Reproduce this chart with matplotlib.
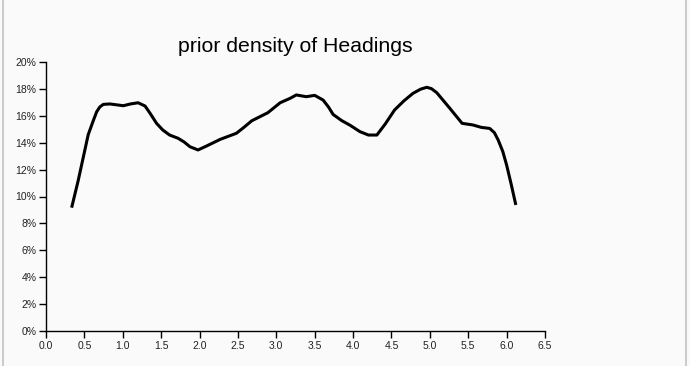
import matplotlib
matplotlib.use("Agg")
import matplotlib.pyplot as plt
from matplotlib.lines import Line2D
from matplotlib.ticker import FuncFormatter, MultipleLocator

heading = [0.334, 0.42, 0.55, 0.62, 0.66, 0.70, 0.746, 0.833, 1.007, 1.10, 1.20, 1.29, 1.36,
           1.44, 1.52, 1.61, 1.72, 1.80, 1.875, 1.98, 2.09, 2.27, 2.48, 2.58, 2.68, 2.89, 3.05,
           3.18, 3.26, 3.39, 3.50, 3.61, 3.68, 3.74, 3.85, 3.96, 4.09, 4.20, 4.31, 4.42, 4.54,
           4.66, 4.78, 4.88, 4.96, 5.02, 5.09, 5.26, 5.42, 5.56, 5.67, 5.78, 5.84, 5.89, 5.95,
           6.0, 6.06, 6.12]
density = [9.17, 11.2, 14.6, 15.7, 16.3, 16.65, 16.85, 16.88, 16.75, 16.88, 16.97, 16.73, 16.15,
           15.44, 14.95, 14.57, 14.33, 14.05, 13.7, 13.46, 13.75, 14.25, 14.7, 15.15, 15.63, 16.23, 16.97,
           17.3, 17.55, 17.42, 17.52, 17.17, 16.65, 16.1, 15.65, 15.3, 14.82, 14.57, 14.57, 15.4, 16.43,
           17.1, 17.67, 17.98, 18.12, 18.02, 17.72, 16.56, 15.44, 15.32, 15.14, 15.06, 14.75, 14.2, 13.35,
           12.34, 10.9, 9.37]

plt.rcParams['font.family'] = ['Liberation Sans', 'DejaVu Sans']
fig = plt.figure(figsize=(6.9, 3.66), dpi=100, facecolor='#fafafa')
ax = fig.add_axes([46/690, 35/366, (545-46)/690, (331-62)/366])
ax.set_facecolor('#fafafa')
ax.plot(heading, density, color='black', lw=2.2, solid_joinstyle='round', solid_capstyle='butt')
ax.set_xlim(0, 6.5)
ax.set_ylim(0, 20)
ax.xaxis.set_major_locator(MultipleLocator(0.5))
ax.yaxis.set_major_locator(MultipleLocator(2))
ax.xaxis.set_major_formatter(FuncFormatter(lambda v, p: f"{v:.1f}"))
ax.yaxis.set_major_formatter(FuncFormatter(lambda v, p: f"{v:.0f}%"))
for s in ['top', 'right']:
    ax.spines[s].set_visible(False)
for s in ['left', 'bottom']:
    ax.spines[s].set_color('black')
    ax.spines[s].set_linewidth(1)
ax.tick_params(labelsize=7.5, length=5, width=1, colors='black', labelcolor='#222222', pad=2)
fig.text((46+545)/2/690, 1-46/366, 'prior density of Headings', ha='center', va='center', fontsize=15.3)
fig.add_artist(Line2D([3.5/690, 3.5/690], [0, 1], color='#cccccc', lw=1.5, transform=fig.transFigure))
fig.add_artist(Line2D([686/690, 686/690], [0, 1], color='#cccccc', lw=1.5, transform=fig.transFigure))
fig.savefig('out.png', dpi=100, facecolor='#fafafa')
